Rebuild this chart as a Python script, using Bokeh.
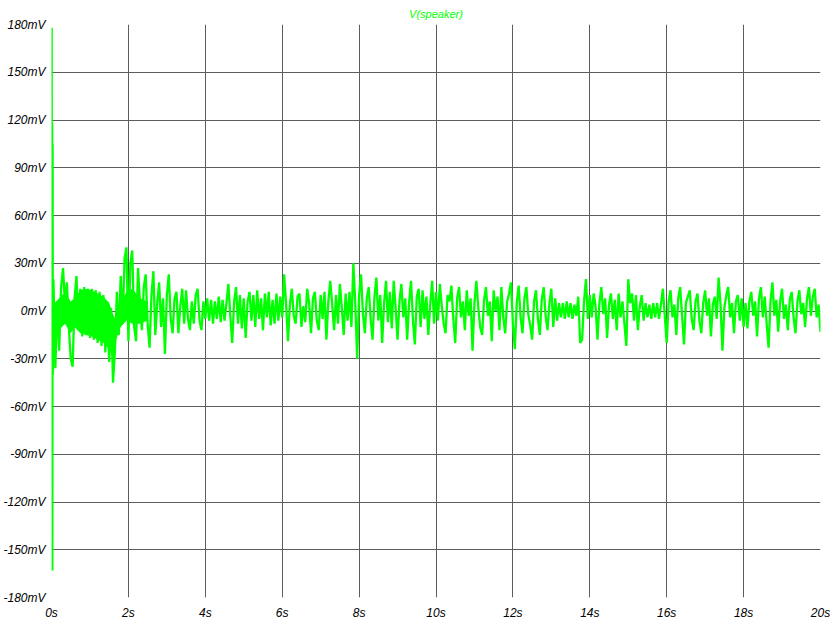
from bokeh.plotting import figure
from bokeh.models import Range1d, FixedTicker
from bokeh.embed import file_html
from bokeh.resources import INLINE
import numpy as np

# --- data (mV vs seconds) ---
spike_t = [0.0, 0.004, 0.008, 0.012, 0.016, 0.022, 0.028, 0.034, 0.042]
spike_mv = [0, 178, 60, -30, 118, -163, 105, -40, 10]

step_s = 0.05  # sampling of the read-off trace, one value every 50 ms from 0.05 s to 20 s
trace_mv = [
    # 0.05 - 1.00 s
    20, -36, 5, -25, 15, 27, 5, 18, -10, -30, -35, 8, 22, -12, 14, -16, 15, -15, 14, -17,
    # 1.05 - 2.00 s
    14, -18, 13, -20, 12, -22, 10, -26, 6, -32, 2, -45, -25, 12, -15, 22, -8, 33, 40, -19,
    # 2.05 - 3.00 s
    30, 38, -10, -19, 27, 5, -12, 15, 23, -8, -23, 10, 25, -15, 5, 18, -10, 8, -27, 10,
    # 3.05 - 4.00 s
    23, -5, -14, 8, 12, -14, 3, 14, -8, 13, -5, -12, 6, -8, 10, 14, -6, -12, 6, -5,
    # 4.05 - 5.00 s
    8, -6, 7, -8, 6, -5, 9, -7, 7, -6, 5, 17, -3, -20, 6, 15, -8, 10, -11, 8,
    # 5.05 - 6.00 s
    -17, 6, 12, -6, 10, -10, 13, -5, 8, -12, 11, -4, 12, -9, 7, -8, 11, -6, 9, -4,
    # 6.05 - 7.00 s
    23, 5, -19, 4, 14, -3, -8, 9, 11, -10, 3, -7, 14, 5, -14, 8, 12, -6, -12, 10,
    # 7.05 - 8.00 s
    -5, 12, -18, 6, 19, 4, -12, 10, -8, 17, 2, -15, 11, -6, 12, -10, 30, 5, -30, 10,
    # 8.05 - 9.00 s
    23, -2, -14, 8, 15, -5, -18, 9, 21, -6, 10, -20, 5, 19, -7, 12, -11, 19, 2, -18,
    # 9.05 - 10.00 s
    6, 17, -4, 8, -18, 5, 19, -6, -21, 9, 14, -10, 13, -5, 9, -15, 4, 19, -8, 12,
    # 10.05 - 11.00 s
    -6, 17, 3, -8, -14, 10, 6, 16, -5, -20, 8, 15, -4, 6, -12, 13, -3, 8, -25, 5,
    # 11.05 - 12.00 s
    19, 2, -10, -15, 7, 15, -3, 6, -19, 13, 0, 9, -12, 15, -4, -14, 6, 11, 18, -8,
    # 12.05 - 13.00 s
    -24, 5, 16, -4, -14, 8, 15, -2, -9, -18, 6, 13, -5, -15, 7, 15, -3, -12, 5, 14,
    # 13.05 - 14.00 s
    -10, 8, -6, 5, -4, 5, -5, 6, -4, 5, -5, 4, -3, 9, -20, -18, 6, 20, -5, 10,
    # 14.05 - 15.00 s
    -4, 11, 3, -18, 5, 15, -2, 8, -17, 4, 11, -5, 7, -12, 11, -4, 6, -8, -22, 20,
    # 15.05 - 16.00 s
    5, 11, -6, 10, -12, 3, 10, -6, 5, -4, 4, -5, 5, -4, 5, -5, 4, 14, -3, -20,
    # 16.05 - 17.00 s
    6, 13, -4, 4, -15, 8, 15, -3, -21, 5, 9, 13, -5, -12, 6, 11, -6, -14, 5, 13,
    # 17.05 - 18.00 s
    -3, 8, -16, 4, 9, -5, 21, 4, -25, 2, 10, 15, -4, 5, -14, 6, 10, -6, 8, -10,
    # 18.05 - 19.00 s
    5, -11, 6, 12, -3, 6, -16, 8, 15, -4, 9, -8, -23, 6, 18, -3, 7, -13, 6, 14,
    # 19.05 - 20.00 s
    -5, 4, -12, 7, 12, -4, -14, 6, 13, -2, 5, -10, 8, 15, -3, 9, 14, -4, 4, -13,
]

# envelope of the dense fast ripple (solid green region) in the first seconds
band_t = [0.08, 0.2, 0.35, 0.5, 0.6, 0.75, 0.9, 1.05, 1.2, 1.35, 1.5, 1.6, 1.68, 1.8, 1.95, 2.1, 2.3, 2.5]
band_hi = [5, 8, 12, 6, 8, 13, 14, 13, 11, 9, 5, -2, -6, 6, 12, 14, 8, 6]
band_lo = [-20, -12, -8, -14, -10, -14, -15, -16, -18, -20, -24, -30, -18, -10, -6, -8, -8, -6]

x_ticks = [0, 2, 4, 6, 8, 10, 12, 14, 16, 18, 20]
y_ticks = [-180, -150, -120, -90, -60, -30, 0, 30, 60, 90, 120, 150, 180]
title_text = "V(speaker)"

trace_t = list(np.round(np.arange(1, len(trace_mv) + 1) * step_s, 3))
t_all = spike_t + trace_t
v_all = spike_mv + trace_mv

GREEN = "#00ff00"
GRID = "#5c5c5c"
FONT = "Liberation Sans"

p = figure(
    frame_width=769, frame_height=573,
    x_range=Range1d(0, 20), y_range=Range1d(-180, 180),
    output_backend="svg", toolbar_location=None,
    min_border_left=0, min_border_right=10, min_border_top=0, min_border_bottom=0,
    title=title_text,
)
p.title.align = "center"
p.title.text_color = GREEN
p.title.text_font = FONT
p.title.text_font_style = "italic"
p.title.text_font_size = "11px"
p.title.standoff = 10
p.title.offset = -4

p.outline_line_color = None
p.background_fill_color = "white"
p.border_fill_color = "white"

p.xaxis.ticker = FixedTicker(ticks=x_ticks)
p.yaxis.ticker = FixedTicker(ticks=y_ticks)
p.xaxis.major_label_overrides = {t: f"{t}s" for t in x_ticks}
p.yaxis.major_label_overrides = {v: f"{v}mV" for v in y_ticks}
for ax in (p.xaxis, p.yaxis):
    ax.axis_line_color = None
    ax.major_tick_line_color = None
    ax.minor_tick_line_color = None
    ax.major_label_text_font = FONT
    ax.major_label_text_font_style = "italic"
    ax.major_label_text_font_size = "12px"
    ax.major_label_text_color = "black"
p.xaxis.major_label_standoff = 2
p.yaxis.major_label_standoff = 0

p.xgrid.ticker = FixedTicker(ticks=x_ticks[1:-1])
p.ygrid.ticker = FixedTicker(ticks=y_ticks[1:-1])
for g in (p.xgrid, p.ygrid):
    g.grid_line_color = GRID
    g.grid_line_width = 1
    g.grid_line_alpha = 1

p.varea(x=band_t, y1=band_lo, y2=band_hi, fill_color=GREEN)
p.line(t_all, v_all, line_color=GREEN, line_width=2.3)

open("out.html", "w").write(file_html(p, INLINE))
